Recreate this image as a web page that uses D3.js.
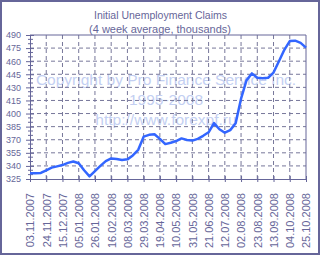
<!DOCTYPE html>
<html lang="en">
<head>
  <meta charset="UTF-8">
  <title>Initial Unemployment Claims</title>
  <style>
    body { margin: 0; background: #fff; }
    svg { display: block; font-family: Arial, "Liberation Sans", sans-serif; }
  </style>
</head>
<body>
<div id="chart"></div>
<script src="https://cdn.jsdelivr.net/npm/d3@7/dist/d3.min.js"></script>
<script>
// подписи оси X (каждые 3 недели)
let weekLabels = ['03.11.2007', '24.11.2007', '15.12.2007', '05.01.2008', '26.01.2008', '16.02.2008',
  '08.03.2008', '29.03.2008', '19.04.2008', '10.05.2008', '31.05.2008', '21.06.2008',
  '12.07.2008', '02.08.2008', '23.08.2008', '13.09.2008', '04.10.2008', '25.10.2008']
// недельные значения, тыс.
let claims = [331.5, 331.5, 332, 335, 338, 339.5, 341, 343.5, 345, 343, 335, 328,
  334, 340, 345.5, 348.5, 348, 346.8, 347.5, 352, 358.5, 373.5, 375.6, 376.2,
  371, 365, 366.5, 368.5, 371.5, 369.7, 369, 371, 374.5, 378.5, 389, 382,
  378, 381, 389, 417, 438, 446, 441, 440.4, 441, 447, 460, 473, 483, 483.5, 481, 475.5]
let yTicks = [325, 340, 355, 370, 385, 400, 415, 430, 445, 460, 475, 490]
let yMinor = d3.range(325, 491, 5)

let width = 321
let height = 256
let padLeft = 30, padRight = 306, padTop = 35, padBottom = 179
let frameColor = '#666699'
let gridColor = '#77779a'
let lineColor = '#3366ff'

let svg = d3.select('#chart').append('svg').attr('width', width).attr('height', height)

// рамка
svg.append('rect').attr('x', 1).attr('y', 1).attr('width', width - 3).attr('height', height - 3)
  .attr('fill', '#fff').attr('stroke', frameColor).attr('stroke-width', 2)

let x = d3.scaleLinear().domain([0, claims.length - 1]).range([padLeft, padRight])
let y = d3.scaleLinear().domain([325, 490]).range([padBottom, padTop])
let labelIdx = weekLabels.map((d, i) => i * 3)

// заголовок
svg.append('text').text('Initial Unemployment Claims').attr('x', 160.5).attr('y', 19)
  .attr('text-anchor', 'middle').attr('font-size', 10.5).attr('fill', frameColor)
svg.append('text').text('(4 week average, thousands)').attr('x', 160).attr('y', 32.5)
  .attr('text-anchor', 'middle').attr('font-size', 11).attr('fill', frameColor)

// водяной знак
let wm = ['Copyright by Pro Finance Service Inc.', '1995-2008', 'http://www.forexpf.ru']
wm.forEach((t, i) => {
  svg.append('text').text(t).attr('x', 166).attr('y', 85 + i * 20)
    .attr('text-anchor', 'middle').attr('font-size', 15.5).attr('fill', '#c3cff2')
})

// сетка
let grid = svg.append('g').attr('stroke', gridColor).attr('stroke-dasharray', '4,3')
yTicks.slice(1, -1).forEach(v => {
  grid.append('line').attr('x1', padLeft).attr('x2', padRight).attr('y1', y(v)).attr('y2', y(v))
})
labelIdx.slice(1, -1).forEach(i => {
  grid.append('line').attr('x1', x(i)).attr('x2', x(i)).attr('y1', padTop).attr('y2', padBottom)
})

// правая и верхняя граница области
svg.append('path').attr('d', 'M' + padLeft + ',' + padTop + 'H' + padRight + 'V' + padBottom)
  .attr('fill', 'none').attr('stroke', frameColor)

// ось Y
let yAxis = d3.axisLeft(y).tickValues(yTicks).tickSize(4).tickPadding(5)
let gy = svg.append('g').attr('transform', 'translate(' + padLeft + ',0)').call(yAxis)
gy.select('.domain').attr('stroke', frameColor)
gy.selectAll('.tick line').attr('x2', -4).attr('x1', 4).attr('stroke', frameColor)
gy.selectAll('.tick text').attr('font-size', 9).attr('fill', frameColor).attr('font-family', 'Arial, "Liberation Sans", sans-serif')
gy.selectAll('.minor').data(yMinor.filter(v => yTicks.indexOf(v) < 0)).enter().append('line')
  .attr('x1', -2).attr('x2', 3).attr('y1', d => y(d)).attr('y2', d => y(d)).attr('stroke', frameColor)

// ось X
let xAxis = d3.axisBottom(x).tickValues(labelIdx).tickFormat((d, i) => weekLabels[i]).tickSize(3)
let gx = svg.append('g').attr('transform', 'translate(0,' + padBottom + ')').call(xAxis)
gx.select('.domain').attr('stroke', frameColor)
gx.selectAll('.tick line').attr('y1', -3).attr('y2', 3).attr('stroke', frameColor)
gx.selectAll('.tick text').attr('font-size', 11).attr('fill', frameColor)
  .attr('font-family', 'Arial, "Liberation Sans", sans-serif')
  .attr('transform', 'rotate(-90)').attr('text-anchor', 'end')
  .attr('x', -14).attr('y', 0).attr('dy', '0.35em')

// линия
let line = d3.line().x((d, i) => x(i)).y(d => y(d))
svg.append('path').datum(claims).attr('d', line).attr('fill', 'none')
  .attr('stroke', lineColor).attr('stroke-width', 2.5).attr('stroke-linejoin', 'round')
</script>
</body>
</html>
